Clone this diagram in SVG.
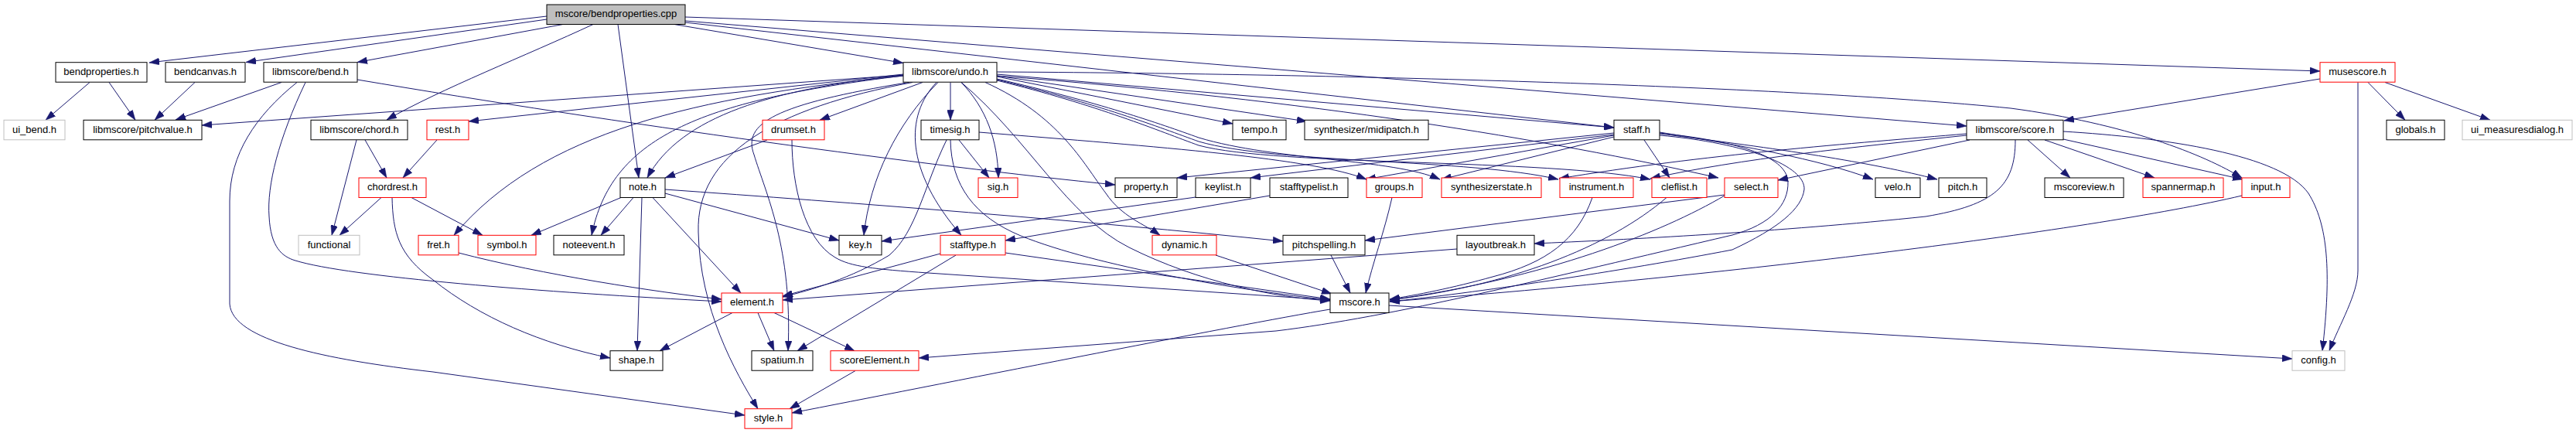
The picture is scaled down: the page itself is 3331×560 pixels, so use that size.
<svg xmlns="http://www.w3.org/2000/svg" width="3331" height="560" viewBox="0 0 3331 560">
<style>
.nd rect{fill:#ffffff;stroke:#000000;stroke-width:1}
.rd rect{fill:#ffffff;stroke:#ff0000;stroke-width:1}
.gy rect{fill:#ffffff;stroke:#bfbfbf;stroke-width:1}
.rt rect{fill:#bfbfbf;stroke:#000000;stroke-width:1}
text{font-family:"Liberation Sans",Arial,Helvetica,sans-serif;font-size:13px;text-anchor:middle;fill:#000000}
.e path{fill:none;stroke:#191970;stroke-width:1;marker-end:url(#a)}
</style>
<defs>
<marker id="a" markerUnits="userSpaceOnUse" markerWidth="13" markerHeight="9" refX="13" refY="4.5" orient="auto" viewBox="0 0 13 9">
<path d="M0,0 L13,4.5 L0,9 z" fill="#191970" stroke="#191970" stroke-width="0.5"/>
</marker>
</defs>
<rect width="3331" height="560" fill="#ffffff"/>
<g id="edges" class="e">
<path d="M707,21 L193,81"/>
<path d="M707,25 L318,80.5"/>
<path d="M728,31.5 L462,80.5"/>
<path d="M767,31.5 C680,72 570,115 500,155"/>
<path d="M799,31.5 L826,230"/>
<path d="M872,31.5 L1168,81.5"/>
<path d="M886,22 L3000,92"/>
<path d="M886,27 L2543,163"/>
<path d="M886,29 L2087,165"/>
<path d="M116,106.5 L59,155.3"/>
<path d="M141,106.5 L175,155.3"/>
<path d="M252,106.5 L200,155.3"/>
<path d="M364,106.5 L227,155"/>
<path d="M462,103 C800,160 1200,215 1442,239"/>
<path d="M395,106.5 C360,180 345,240 348,280 C350,320 365,332 382,337 C450,358 700,378 933,390"/>
<path d="M384,106.5 C330,150 297,200 297,260 L297,393 C300,440 420,465 560,481 L963,537"/>
<path d="M472,181 L500,230"/>
<path d="M461,181 L429,304.3"/>
<path d="M493,255.5 L439,304.3"/>
<path d="M507,255.5 C508,300 515,330 560,362 C620,410 700,445 789,463"/>
<path d="M532,255.5 L624,304.3"/>
<path d="M565,181 L521,230"/>
<path d="M803,255.5 L687,304.3"/>
<path d="M819,255.5 L777,304.3"/>
<path d="M830,255.5 L824,453.7"/>
<path d="M844,255.5 L958,379"/>
<path d="M860,250 L1085,311"/>
<path d="M860,245 C1100,262 1400,285 1659,312"/>
<path d="M992,181 L860,230"/>
<path d="M1024,181 C1024,240 1040,310 1080,333 C1100,345 1130,348 1200,353 L1720,388"/>
<path d="M1168,97 L261,162"/>
<path d="M1168,96 L606,157"/>
<path d="M1168,97 C1000,115 880,150 837,230"/>
<path d="M1168,98 C900,130 790,180 765,304.3"/>
<path d="M1168,98 C900,125 700,170 587,304.3"/>
<path d="M1193,106.5 L1060,155.3"/>
<path d="M1229,106.5 L1229,155.3"/>
<path d="M1243,106.5 C1275,140 1290,180 1291,230"/>
<path d="M1211,106.5 C1170,150 1170,220 1243,304.3"/>
<path d="M1213,106.5 C1160,160 1125,230 1117,304.3"/>
<path d="M1243,106.5 C1330,180 1380,280 1460,320 C1550,365 1650,385 1720,389"/>
<path d="M1274,106.5 C1370,150 1400,210 1430,250 C1450,280 1480,290 1500,304.3"/>
<path d="M1180,106.5 C1000,140 900,200 903,300 C905,400 950,480 980,528.7"/>
<path d="M1175,106.5 C1000,135 960,160 975,200 C990,250 1025,320 1019,453.7"/>
<path d="M1289,99 L1594,160"/>
<path d="M1289,98 L1690,157"/>
<path d="M1289,96 L2087,165"/>
<path d="M1289,93 C1700,95 2300,110 2600,140 C2750,160 2850,200 2899,230"/>
<path d="M1289,98 C1700,130 2000,180 2222,230"/>
<path d="M1289,102 C1420,132 1500,160 1550,178 C1650,208 1800,205 1862,232"/>
<path d="M1289,103 C1420,134 1500,165 1550,183 C1650,212 1900,205 2015,232"/>
<path d="M1289,104 C1420,136 1500,170 1550,188 C1650,215 2000,205 2134,232"/>
<path d="M2087,175 L1766,232"/>
<path d="M2087,177 L1864,232"/>
<path d="M2087,172 L1522,230"/>
<path d="M2087,174 L1617,230"/>
<path d="M2126,181 L2159,230"/>
<path d="M2146,171 C2250,188 2350,205 2422,232"/>
<path d="M2146,173 C2300,192 2420,210 2505,232"/>
<path d="M2146,175 C2260,185 2335,215 2333,245 C2330,270 2300,295 2240,323 C2100,350 1900,380 1797,390"/>
<path d="M2146,172 C2240,182 2310,200 2312,235 C2313,265 2290,290 2240,304 C2000,360 1800,410 1650,428 L1188,463"/>
<path d="M2547,181 L2299,233"/>
<path d="M2622,181 L2677,230"/>
<path d="M2644,181 L2786,230"/>
<path d="M2668,180 L2900,232"/>
<path d="M2668,170 C2800,178 2950,200 2985,250 C3010,290 3015,350 3003,453.7"/>
<path d="M2606,181 C2606,240 2580,265 2490,280 C2300,300 2100,310 1984,315"/>
<path d="M2543,173 C2400,185 2200,200 2016,231"/>
<path d="M2543,175 C2400,190 2250,205 2134,231"/>
<path d="M3000,102 L2669,156"/>
<path d="M3049,106.5 L3049,350 C3049,380 3025,420 3012,453.7"/>
<path d="M3062,106.5 L3110,155.3"/>
<path d="M3084,106.5 L3220,155.3"/>
<path d="M2899,253 C2700,300 2200,360 1797,390"/>
<path d="M1796,395 L2964,464"/>
<path d="M1720,400 C1600,420 1200,500 1024,534"/>
<path d="M1106,479.5 L1021,528.7"/>
<path d="M947,404.5 L853,453.7"/>
<path d="M980,404.5 L1001,453.7"/>
<path d="M1001,404.5 L1105,453.7"/>
<path d="M1216,328 L1012,383"/>
<path d="M1236,330 L1031,453.7"/>
<path d="M1300,327 L1720,387"/>
<path d="M1240,181 L1279,230"/>
<path d="M1266,171 C1500,190 1700,205 1767,232"/>
<path d="M1224,181 C1195,240 1185,300 1150,330 C1100,360 1050,375 1012,384"/>
<path d="M1229,181 C1230,240 1260,280 1320,305 C1420,345 1600,375 1720,388"/>
<path d="M1572,330 L1722,380"/>
<path d="M1721,330 L1746,379"/>
<path d="M1884,322 L1012,388"/>
<path d="M1546,255 L1140,312"/>
<path d="M1642,253 L1300,311"/>
<path d="M1800,255.5 C1790,300 1775,340 1766,379"/>
<path d="M2059,255.5 C2040,310 2000,340 1930,358 C1880,372 1830,382 1797,387"/>
<path d="M2155,255.5 C2080,320 1950,370 1797,388"/>
<path d="M2230,253 C2150,300 2000,360 1797,388"/>
<path d="M2230,252 L1765,311"/>
<path d="M593,327 C700,355 850,378 933,387"/>
</g>
<g id="n_root" class="rt"><rect x="707" y="6" width="179" height="25.5"/><text x="796.5" y="22.3">mscore/bendproperties.cpp</text></g>
<g id="n_bendproperties_h" class="nd"><rect x="72" y="80.7" width="118" height="25.5"/><text x="131" y="97">bendproperties.h</text></g>
<g id="n_bendcanvas_h" class="nd"><rect x="214" y="80.7" width="103" height="25.5"/><text x="265.5" y="97">bendcanvas.h</text></g>
<g id="n_bend_h" class="nd"><rect x="341" y="80.7" width="121" height="25.5"/><text x="401.5" y="97">libmscore/bend.h</text></g>
<g id="n_undo_h" class="nd"><rect x="1168" y="80.7" width="121" height="25.5"/><text x="1228.5" y="97">libmscore/undo.h</text></g>
<g id="n_musescore_h" class="rd"><rect x="3000" y="80.7" width="97" height="25.5"/><text x="3048.5" y="97">musescore.h</text></g>
<g id="n_ui_bend_h" class="gy"><rect x="5" y="155.3" width="79" height="25.5"/><text x="44.5" y="171.6">ui_bend.h</text></g>
<g id="n_pitchvalue_h" class="nd"><rect x="108" y="155.3" width="153" height="25.5"/><text x="184.5" y="171.6">libmscore/pitchvalue.h</text></g>
<g id="n_chord_h" class="nd"><rect x="402" y="155.3" width="125" height="25.5"/><text x="464.5" y="171.6">libmscore/chord.h</text></g>
<g id="n_rest_h" class="rd"><rect x="552" y="155.3" width="54" height="25.5"/><text x="579" y="171.6">rest.h</text></g>
<g id="n_drumset_h" class="rd"><rect x="986" y="155.3" width="80" height="25.5"/><text x="1026" y="171.6">drumset.h</text></g>
<g id="n_timesig_h" class="nd"><rect x="1191" y="155.3" width="75" height="25.5"/><text x="1228.5" y="171.6">timesig.h</text></g>
<g id="n_tempo_h" class="nd"><rect x="1594" y="155.3" width="69" height="25.5"/><text x="1628.5" y="171.6">tempo.h</text></g>
<g id="n_midipatch_h" class="nd"><rect x="1687" y="155.3" width="160" height="25.5"/><text x="1767" y="171.6">synthesizer/midipatch.h</text></g>
<g id="n_staff_h" class="nd"><rect x="2087" y="155.3" width="59" height="25.5"/><text x="2116.5" y="171.6">staff.h</text></g>
<g id="n_score_h" class="nd"><rect x="2543" y="155.3" width="125" height="25.5"/><text x="2605.5" y="171.6">libmscore/score.h</text></g>
<g id="n_globals_h" class="nd"><rect x="3086" y="155.3" width="75" height="25.5"/><text x="3123.5" y="171.6">globals.h</text></g>
<g id="n_ui_measuresdialog_h" class="gy"><rect x="3184" y="155.3" width="142" height="25.5"/><text x="3255" y="171.6">ui_measuresdialog.h</text></g>
<g id="n_chordrest_h" class="rd"><rect x="464" y="230" width="87" height="25.5"/><text x="507.5" y="246.3">chordrest.h</text></g>
<g id="n_note_h" class="nd"><rect x="802" y="230" width="58" height="25.5"/><text x="831" y="246.3">note.h</text></g>
<g id="n_sig_h" class="rd"><rect x="1265" y="230" width="51" height="25.5"/><text x="1290.5" y="246.3">sig.h</text></g>
<g id="n_property_h" class="nd"><rect x="1442" y="230" width="80" height="25.5"/><text x="1482" y="246.3">property.h</text></g>
<g id="n_keylist_h" class="nd"><rect x="1546" y="230" width="71" height="25.5"/><text x="1581.5" y="246.3">keylist.h</text></g>
<g id="n_stafftypelist_h" class="nd"><rect x="1642" y="230" width="101" height="25.5"/><text x="1692.5" y="246.3">stafftypelist.h</text></g>
<g id="n_groups_h" class="rd"><rect x="1767" y="230" width="72" height="25.5"/><text x="1803" y="246.3">groups.h</text></g>
<g id="n_synthesizerstate_h" class="rd"><rect x="1864" y="230" width="129" height="25.5"/><text x="1928.5" y="246.3">synthesizerstate.h</text></g>
<g id="n_instrument_h" class="rd"><rect x="2017" y="230" width="95" height="25.5"/><text x="2064.5" y="246.3">instrument.h</text></g>
<g id="n_cleflist_h" class="rd"><rect x="2136" y="230" width="71" height="25.5"/><text x="2171.5" y="246.3">cleflist.h</text></g>
<g id="n_select_h" class="rd"><rect x="2230" y="230" width="69" height="25.5"/><text x="2264.5" y="246.3">select.h</text></g>
<g id="n_velo_h" class="nd"><rect x="2425" y="230" width="58" height="25.5"/><text x="2454" y="246.3">velo.h</text></g>
<g id="n_pitch_h" class="nd"><rect x="2507" y="230" width="62" height="25.5"/><text x="2538" y="246.3">pitch.h</text></g>
<g id="n_mscoreview_h" class="nd"><rect x="2644" y="230" width="102" height="25.5"/><text x="2695" y="246.3">mscoreview.h</text></g>
<g id="n_spannermap_h" class="rd"><rect x="2771" y="230" width="104" height="25.5"/><text x="2823" y="246.3">spannermap.h</text></g>
<g id="n_input_h" class="rd"><rect x="2899" y="230" width="62" height="25.5"/><text x="2930" y="246.3">input.h</text></g>
<g id="n_functional" class="gy"><rect x="386" y="304.3" width="79" height="25.5"/><text x="425.5" y="320.6">functional</text></g>
<g id="n_fret_h" class="rd"><rect x="541" y="304.3" width="52" height="25.5"/><text x="567" y="320.6">fret.h</text></g>
<g id="n_symbol_h" class="rd"><rect x="618" y="304.3" width="75" height="25.5"/><text x="655.5" y="320.6">symbol.h</text></g>
<g id="n_noteevent_h" class="nd"><rect x="716" y="304.3" width="91" height="25.5"/><text x="761.5" y="320.6">noteevent.h</text></g>
<g id="n_key_h" class="nd"><rect x="1085" y="304.3" width="55" height="25.5"/><text x="1112.5" y="320.6">key.h</text></g>
<g id="n_stafftype_h" class="rd"><rect x="1216" y="304.3" width="84" height="25.5"/><text x="1258" y="320.6">stafftype.h</text></g>
<g id="n_dynamic_h" class="rd"><rect x="1490" y="304.3" width="83" height="25.5"/><text x="1531.5" y="320.6">dynamic.h</text></g>
<g id="n_pitchspelling_h" class="nd"><rect x="1659" y="304.3" width="106" height="25.5"/><text x="1712" y="320.6">pitchspelling.h</text></g>
<g id="n_layoutbreak_h" class="nd"><rect x="1884" y="304.3" width="100" height="25.5"/><text x="1934" y="320.6">layoutbreak.h</text></g>
<g id="n_element_h" class="rd"><rect x="933" y="379" width="79" height="25.5"/><text x="972.5" y="395.3">element.h</text></g>
<g id="n_mscore_h" class="nd"><rect x="1720" y="379" width="76" height="25.5"/><text x="1758" y="395.3">mscore.h</text></g>
<g id="n_shape_h" class="nd"><rect x="789" y="453.7" width="68" height="25.5"/><text x="823" y="470">shape.h</text></g>
<g id="n_spatium_h" class="nd"><rect x="972" y="453.7" width="79" height="25.5"/><text x="1011.5" y="470">spatium.h</text></g>
<g id="n_scoreElement_h" class="rd"><rect x="1074" y="453.7" width="114" height="25.5"/><text x="1131" y="470">scoreElement.h</text></g>
<g id="n_config_h" class="gy"><rect x="2964" y="453.7" width="68" height="25.5"/><text x="2998" y="470">config.h</text></g>
<g id="n_style_h" class="rd"><rect x="963" y="528.7" width="61" height="25.5"/><text x="993.5" y="545">style.h</text></g>
</svg>
